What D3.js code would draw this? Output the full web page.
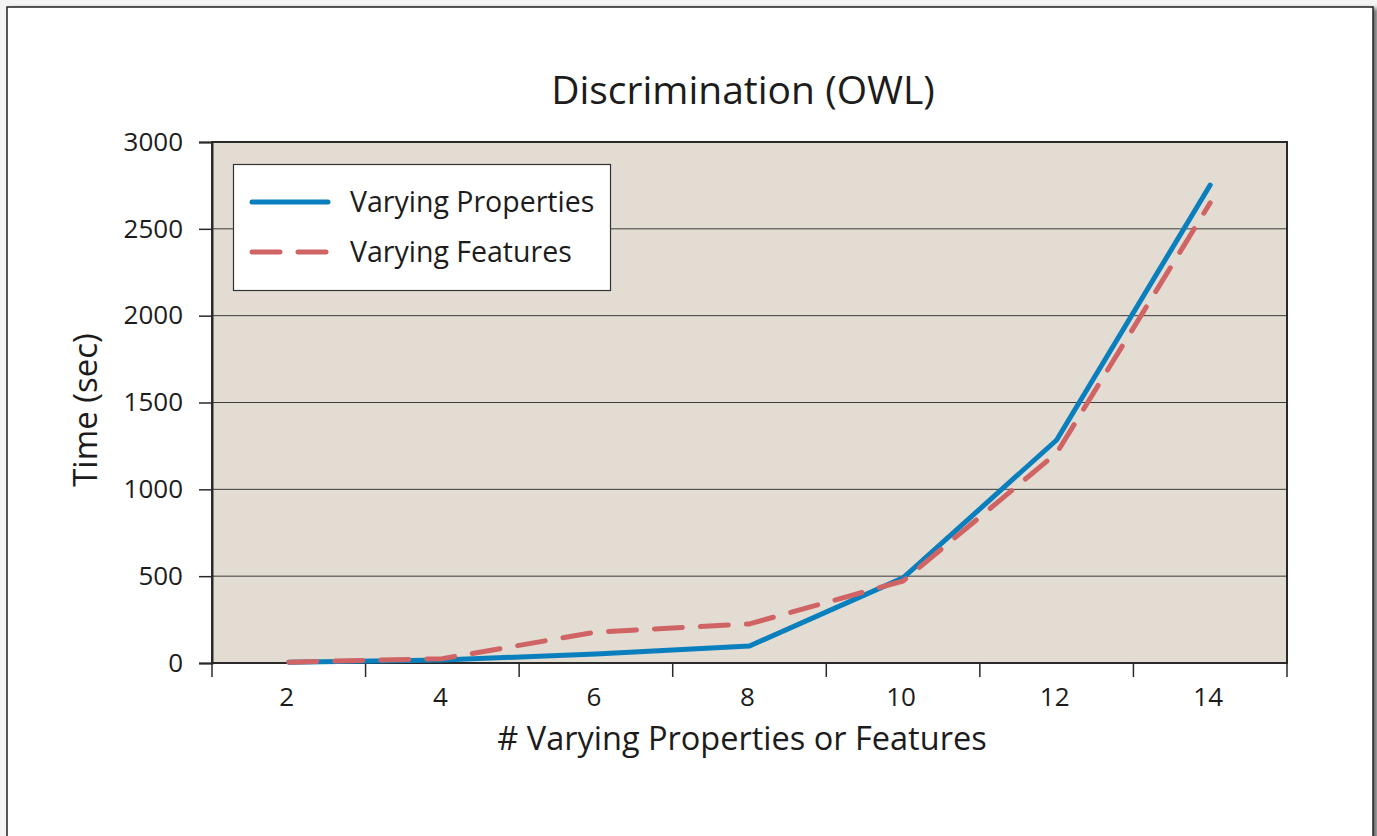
<!DOCTYPE html>
<html lang="en">
<head>
    <meta charset="UTF-8">
    <title>Discrimination (OWL)</title>
    <script src="https://d3js.org/d3.v7.min.js"></script>
    <style>
        body {
            margin: 0;
            padding: 0;
            background: #f4f4f4;
        }
        svg {
            display: block;
            font-family: "Open Sans", "Noto Sans", sans-serif;
        }
    </style>
</head>
<body>
    <script>
        // Data
        var categories = ["2", "4", "6", "8", "10", "12", "14"];
        var varyingProperties = [5, 17, 52, 98, 490, 1284, 2752];
        var varyingFeatures = [5, 25, 178, 225, 472, 1209, 2650];
        var yTicks = [0, 500, 1000, 1500, 2000, 2500, 3000];
        var seriesNames = ["Varying Properties", "Varying Features"];

        var width = 1377;
        var height = 836;
        var plot = { left: 212, top: 142, right: 1287, bottom: 663 };
        var textColor = "#1c1c1c";

        var svg = d3.select("body").append("svg")
            .attr("width", width)
            .attr("height", height);

        // Shadow for the outer frame
        var defs = svg.append("defs");
        var filter = defs.append("filter").attr("id", "shadow")
            .attr("x", "-5%").attr("y", "-5%").attr("width", "110%").attr("height", "110%");
        filter.append("feDropShadow")
            .attr("dx", 4).attr("dy", 2).attr("stdDeviation", 2)
            .attr("flood-color", "#000").attr("flood-opacity", 0.55);

        svg.append("rect")
            .attr("x", 7).attr("y", 7)
            .attr("width", 1366).attr("height", 860)
            .attr("fill", "#fff")
            .attr("stroke", "#222")
            .attr("stroke-width", 1.5)
            .attr("filter", "url(#shadow)");

        // Scales
        var x = d3.scaleBand().domain(categories).range([plot.left, plot.right]);
        var y = d3.scaleLinear().domain([0, 3000]).range([plot.bottom, plot.top]);

        // Plot background
        svg.append("rect")
            .attr("x", plot.left).attr("y", plot.top)
            .attr("width", plot.right - plot.left)
            .attr("height", plot.bottom - plot.top)
            .attr("fill", "#e2dcd3");

        // Horizontal grid lines
        svg.append("g")
            .selectAll("line")
            .data(yTicks.filter(function(d) { return d > 0 && d < 3000; }))
            .join("line")
            .attr("x1", plot.left).attr("x2", plot.right)
            .attr("y1", function(d) { return y(d); })
            .attr("y2", function(d) { return y(d); })
            .attr("stroke", "#3a3a3a")
            .attr("stroke-width", 1);

        // Plot border
        svg.append("rect")
            .attr("x", plot.left).attr("y", plot.top)
            .attr("width", plot.right - plot.left)
            .attr("height", plot.bottom - plot.top)
            .attr("fill", "none")
            .attr("stroke", "#2a2a2a")
            .attr("stroke-width", 2);

        // Y axis
        var yAxis = svg.append("g")
            .attr("transform", "translate(" + plot.left + ",0)")
            .call(d3.axisLeft(y).tickValues(yTicks).tickSize(13).tickPadding(16).tickFormat(d3.format("d")));
        yAxis.select(".domain").attr("stroke", "#2a2a2a").attr("stroke-width", 2);
        yAxis.selectAll(".tick line").attr("stroke", "#2a2a2a").attr("stroke-width", 1.5);
        yAxis.selectAll(".tick text")
            .attr("font-size", 26)
            .attr("fill", textColor)
            .attr("font-family", "Open Sans, sans-serif");

        // X axis: ticks between categories
        var boundaries = categories.map(function(c) { return x(c); }).concat([plot.right]);
        var xAxisG = svg.append("g");
        xAxisG.append("line")
            .attr("x1", plot.left).attr("x2", plot.right)
            .attr("y1", plot.bottom).attr("y2", plot.bottom)
            .attr("stroke", "#2a2a2a").attr("stroke-width", 2);
        xAxisG.selectAll("line.tick")
            .data(boundaries)
            .join("line")
            .attr("class", "tick")
            .attr("x1", function(d) { return d; })
            .attr("x2", function(d) { return d; })
            .attr("y1", plot.bottom)
            .attr("y2", plot.bottom + 14)
            .attr("stroke", "#2a2a2a")
            .attr("stroke-width", 1.5);
        xAxisG.selectAll("text")
            .data(categories)
            .join("text")
            .attr("x", function(d) { return x(d) + x.bandwidth() / 2 - 2; })
            .attr("y", plot.bottom + 43)
            .attr("text-anchor", "middle")
            .attr("font-size", 26)
            .attr("fill", textColor)
            .text(function(d) { return d; });

        // Lines
        var line = d3.line()
            .x(function(d, i) { return x(categories[i]) + x.bandwidth() / 2; })
            .y(function(d) { return y(d); });

        svg.append("path")
            .datum(varyingProperties)
            .attr("d", line)
            .attr("fill", "none")
            .attr("stroke", "#0a7fbd")
            .attr("stroke-width", 5)
            .attr("stroke-linecap", "round")
            .attr("stroke-linejoin", "round");

        svg.append("path")
            .datum(varyingFeatures)
            .attr("d", line)
            .attr("fill", "none")
            .attr("stroke", "#d06464")
            .attr("stroke-width", 5)
            .attr("stroke-dasharray", "28,18")
            .attr("stroke-linecap", "round")
            .attr("stroke-linejoin", "round");

        // Legend
        var legend = svg.append("g");
        legend.append("rect")
            .attr("x", 233.5).attr("y", 164.5)
            .attr("width", 377).attr("height", 126)
            .attr("fill", "#fff")
            .attr("stroke", "#333")
            .attr("stroke-width", 1.2);
        var legendStyles = [
            { color: "#0a7fbd", dash: null },
            { color: "#d06464", dash: "28,18" }
        ];
        seriesNames.forEach(function(name, i) {
            var ly = 202 + i * 50;
            legend.append("line")
                .attr("x1", 252).attr("x2", 328)
                .attr("y1", ly).attr("y2", ly)
                .attr("stroke", legendStyles[i].color)
                .attr("stroke-width", 5)
                .attr("stroke-linecap", "round")
                .attr("stroke-dasharray", legendStyles[i].dash);
            legend.append("text")
                .attr("x", 350)
                .attr("y", ly + 10)
                .attr("font-size", 28.5)
                .attr("fill", textColor)
                .text(name);
        });

        // Title
        svg.append("text")
            .attr("x", 743)
            .attr("y", 104)
            .attr("text-anchor", "middle")
            .attr("font-size", 39)
            .attr("fill", textColor)
            .text("Discrimination (OWL)");

        // Axis titles
        svg.append("text")
            .attr("x", 742)
            .attr("y", 750)
            .attr("text-anchor", "middle")
            .attr("font-size", 32.5)
            .attr("fill", textColor)
            .text("# Varying Properties or Features");

        svg.append("text")
            .attr("transform", "translate(97,410) rotate(-90)")
            .attr("text-anchor", "middle")
            .attr("font-size", 33)
            .attr("fill", textColor)
            .text("Time (sec)");
    </script>
</body>
</html>
